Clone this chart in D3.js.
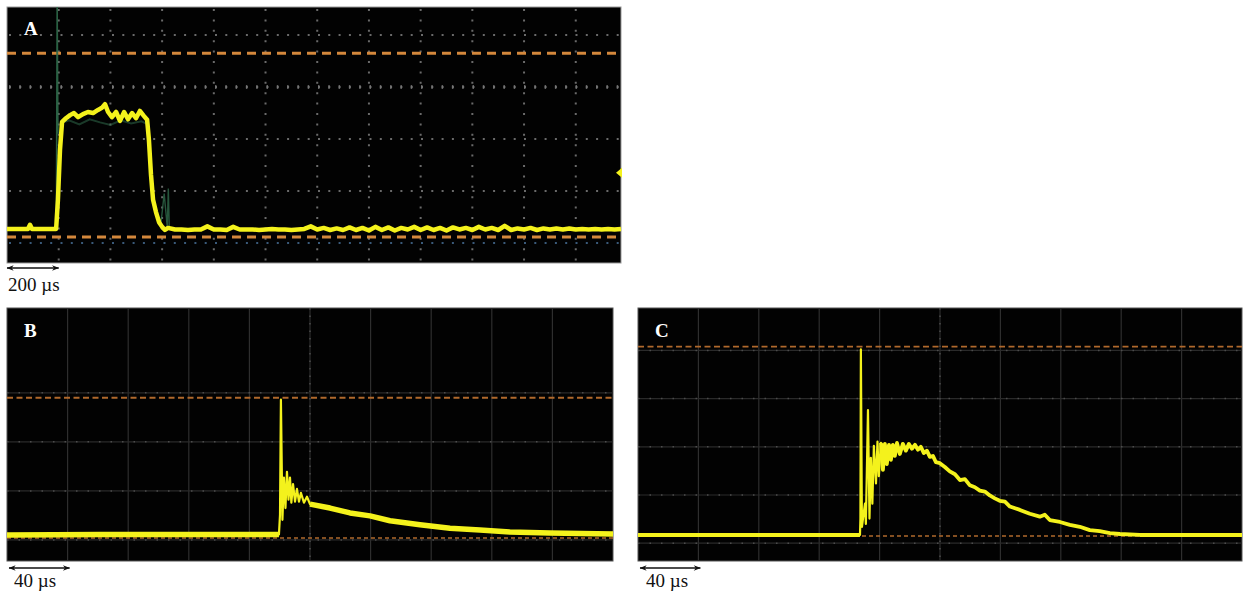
<!DOCTYPE html>
<html><head><meta charset="utf-8">
<script src="https://cdn.jsdelivr.net/npm/d3@7"></script>
<style>body{margin:0;background:#fff}svg{display:block}</style>
</head><body><svg id="c" width="1245" height="595"></svg>
<script>
// ---------------- DATA ----------------
// Panel A: time (µs), voltage (divisions)
const aTime = [0,81,89,97,190,197,205,213,228,244,259,275,294,313,333,352,367,379,391,406,422,437,453,468,484,499,514,530,542,549,557,565,576,588,600,611,623,
 650,675,700,725,750,775,800,825,850,875,900,925,950,975,1000,1025,1050,1075,1100,1125,1150,1175,1200,1225,1250,1275,1300,1325,1350,1375,1400,1425,1450,1475,1500,1525,1550,1575,1600,1625,1650,1675,1700,1725,1750,1775,1800,1825,1850,1875,1900,1925,1950,1975,2000,2025,2050,2075,2100,2125,2150,2175,2200,2225,2250,2275,2300,2325,2350,2375];
const aVolt = [0.27,0.27,0.35,0.27,0.27,0.83,1.79,2.33,2.40,2.46,2.50,2.42,2.48,2.52,2.50,2.56,2.60,2.67,2.52,2.42,2.52,2.35,2.52,2.38,2.50,2.40,2.54,2.44,2.37,1.98,1.31,0.83,0.60,0.40,0.31,0.25,0.29,
 0.26,0.26,0.25,0.26,0.26,0.32,0.26,0.26,0.25,0.31,0.26,0.26,0.26,0.25,0.26,0.27,0.26,0.26,0.25,0.26,0.27,0.32,0.26,0.29,0.25,0.28,0.25,0.30,0.25,0.29,0.24,0.31,0.25,0.30,0.24,0.29,0.26,0.31,0.25,0.30,0.25,0.29,0.24,0.30,0.26,0.29,0.25,0.31,0.26,0.29,0.25,0.33,0.25,0.28,0.26,0.29,0.25,0.28,0.26,0.28,0.26,0.28,0.26,0.27,0.26,0.27,0.26,0.27,0.26,0.27];
// faint green persistence traces in A
const aGreen1Time = [191,194,197];
const aGreen1Volt = [0.27,4.54,2.10];
const aGreen2Time = [205,240,280,320,360,400,440,480,520,545];
const aGreen2Volt = [2.30,2.36,2.28,2.38,2.32,2.27,2.36,2.30,2.34,2.28];
const aGreen3Time = [545,552,560,570,582,596,608,620,624,628];
const aGreen3Volt = [2.30,1.60,1.20,0.80,0.55,0.40,0.95,0.30,1.05,0.25];
const aMarkerVolt = 1.35;
const aRefHigh = 3.65, aRefLow = 0.115;

// Panel B
const bTime = [0,61.4,127,179.5,180.2,180.8,181.8,182.8,183.8,184.8,185.8,186.8,187.7,188.8,190.1,191.4,192.7,194.0,196.0,198.0,200.0,213.2,226.4,239.6,252.8,272.6,292.4,312.2,332,358.4,400];
const bVolt = [0.10,0.11,0.11,0.11,0.51,2.86,0.41,1.27,0.65,1.39,0.82,1.27,0.76,1.14,0.78,1.04,0.78,0.96,0.76,0.88,0.73,0.65,0.55,0.49,0.39,0.31,0.24,0.20,0.16,0.14,0.12];
const bRefHigh = 2.90, bRefLow = 0.04;

// Panel C
const cTime = [0,147,147.3,147.6,148.3,150.3,150.9,152.3,153.3,154.2,155.2,156.2,157.6,158.6,159.5,160.9,162.2,163.5,164.8,166.2,167.5,168.8,170.1,171.5,173.4,175.4,177.4,179.4,181.4,183.4,185.4,187.3,189.3,191.3,193.3,195.3,197.3,199.9,203.2,206.5,209.9,213.2,216.5,219.8,223.1,226.4,229.7,233.0,236.3,239.6,243,246.3,252.9,259.5,266.1,269.4,272.7,279.4,286,292.6,299.2,305.8,312.5,319.1,332.3,400];
const cVolt = [0.17,0.17,0.51,4.02,0.34,0.82,0.40,2.76,0.51,1.77,0.82,2.02,1.24,2.11,1.39,2.08,1.52,2.06,1.64,2.04,1.73,2.04,1.81,2.08,1.85,2.06,1.92,2.06,1.96,2.04,1.94,2.00,1.87,1.92,1.79,1.81,1.68,1.66,1.58,1.49,1.43,1.31,1.33,1.20,1.16,1.09,1.07,0.99,0.93,0.88,0.86,0.76,0.69,0.61,0.55,0.59,0.48,0.44,0.38,0.34,0.27,0.25,0.21,0.19,0.17,0.17];
const cRefHigh = 4.08, cRefLow = 0.15;

const timeTicksA = [200,400,600,800,1000,1200,1400,1600,1800,2000,2200];
const timeTicksBC = [40,80,120,160,200,240,280,320,360];
const voltTicksA = [0,1,2,3,4];
const voltTicksB = [0,1,2,3];
const voltTicksC = [0,1,2,3,4];
const labels = ["A","B","C"];
const scaleLabels = ["200 µs","40 µs","40 µs"];

// ---------------- DRAW ----------------
const svg = d3.select("#c");
const YEL = "#f4f21c";
const SERIF = "'Liberation Serif', 'DejaVu Serif', serif";

function zip(t, v){ return t.map((d,i)=>({t:d, v:v[i]})); }

function panel(cfg){
  const g = svg.append("g");
  const x = d3.scaleLinear().domain(cfg.xd).range([cfg.x0, cfg.x1]);
  const y = d3.scaleLinear().domain(cfg.yd).range([cfg.y1, cfg.y0]);
  g.append("rect").attr("x",cfg.x0).attr("y",cfg.y0).attr("width",cfg.x1-cfg.x0).attr("height",cfg.y1-cfg.y0)
    .attr("fill","#020202").attr("stroke", cfg.border).attr("stroke-width",1);
  return {g,x,y};
}

// ---- Panel A ----
(function(){
  const {g,x,y} = panel({x0:7,x1:621,y0:7,y1:263,xd:[0,2375],yd:[-0.385,4.54],border:"#999"});
  g.selectAll(".gv").data(timeTicksA).join("line")
    .attr("x1",d=>x(d)).attr("x2",d=>x(d)).attr("y1",9).attr("y2",261)
    .attr("stroke","#6a6a6a").attr("stroke-width",2).attr("stroke-dasharray","2,8.4");
  g.selectAll(".gh").data(voltTicksA).join("line")
    .attr("x1",9).attr("x2",619).attr("y1",d=>y(d)).attr("y2",d=>y(d))
    .attr("stroke",d=>d===0?"#3a5a7a":"#6a6a6a").attr("stroke-width",2).attr("stroke-dasharray","2,8.3");
  g.append("line").attr("x1",9).attr("x2",619).attr("y1",y(3)).attr("y2",y(3))
    .attr("stroke","#7a7a7a").attr("stroke-width",4).attr("stroke-dasharray","1.5,8.8").attr("opacity",0.8);
  [aRefHigh,aRefLow].forEach(v=>{
    g.append("line").attr("x1",7).attr("x2",621).attr("y1",y(v)).attr("y2",y(v))
      .attr("stroke","#d4883c").attr("stroke-width",3).attr("stroke-dasharray","9,6");
  });
  const line = d3.line().x(d=>x(d.t)).y(d=>y(d.v));
  [[aGreen1Time,aGreen1Volt,1.6,0.9],[aGreen2Time,aGreen2Volt,2,0.55],[aGreen3Time,aGreen3Volt,1.4,0.8]].forEach(([t,v,w,o])=>{
    g.append("path").attr("d",line(zip(t,v))).attr("fill","none").attr("stroke","#2f6a4a").attr("stroke-width",w).attr("opacity",o);
  });
  g.append("path").attr("d",line(zip(aTime,aVolt))).attr("fill","none").attr("stroke",YEL)
    .attr("stroke-width",4.5).attr("stroke-linejoin","round");
  const my = y(aMarkerVolt), mx = x(2375);
  g.append("path").attr("d",`M${mx-5},${my}L${mx+1},${my-5}L${mx+1},${my+5}Z`).attr("fill",YEL);
})();

// ---- Panels B & C ----
function scopePanel(cfg, tArr, vArr, vTicks, refH, refL, bandCut){
  const {g,x,y} = panel(cfg);
  g.selectAll(".gv").data(timeTicksBC).join("line")
    .attr("x1",d=>x(d)).attr("x2",d=>x(d)).attr("y1",cfg.y0).attr("y2",cfg.y1)
    .attr("stroke","#2e2e2e").attr("stroke-width",1.2);
  g.selectAll(".gh").data(vTicks).join("line")
    .attr("x1",cfg.x0).attr("x2",cfg.x1).attr("y1",d=>y(d)).attr("y2",d=>y(d))
    .attr("stroke","#2a2a2a").attr("stroke-width",1.2);
  g.selectAll(".ghd").data(vTicks).join("line")
    .attr("x1",cfg.x0).attr("x2",cfg.x1).attr("y1",d=>y(d)).attr("y2",d=>y(d))
    .attr("stroke","#4c4c4c").attr("stroke-width",1.5).attr("stroke-dasharray","1.5,10");
  g.append("line").attr("x1",x(200)).attr("x2",x(200)).attr("y1",cfg.y0).attr("y2",cfg.y1)
    .attr("stroke","#4c4c4c").attr("stroke-width",1.5).attr("stroke-dasharray","1.5,6");
  [refH,refL].forEach((v,i)=>{
    g.append("line").attr("x1",cfg.x0).attr("x2",cfg.x1).attr("y1",y(v)).attr("y2",y(v))
      .attr("stroke","#b0692c").attr("stroke-width",i===0?1.8:1.6).attr("stroke-dasharray",i===0?"6,3.5":"4,3");
  });
  const data = zip(tArr,vArr);
  const line = d3.line().x(d=>x(d.t)).y(d=>y(d.v));
  g.append("path").attr("d",line(data)).attr("fill","none").attr("stroke",YEL)
    .attr("stroke-width",2.2).attr("stroke-linejoin","round");
  const band = d3.line().defined(d=>d.t<=bandCut[0]||d.t>=bandCut[1]).x(d=>x(d.t)).y(d=>y(d.v));
  g.append("path").attr("d",band(data)).attr("fill","none").attr("stroke",YEL)
    .attr("stroke-width",cfg.bandW).attr("stroke-linejoin","round");
  return {g,x,y};
}
const B = scopePanel({x0:7,x1:613,y0:308,y1:561,xd:[0,400],yd:[-0.43,4.73],border:"#555",bandW:5.5},
  bTime,bVolt,voltTicksB,bRefHigh,bRefLow,[179.5,200]);
const C = scopePanel({x0:638,x1:1242,y0:308,y1:561,xd:[0,400],yd:[-0.37,4.88],border:"#555",bandW:3.8},
  cTime,cVolt,voltTicksC,cRefHigh,cRefLow,[147,160]);

// ---- letters ----
const letterPos = [[24,35],[24,337],[655,337]];
svg.selectAll(".lab").data(labels).join("text")
  .attr("x",(d,i)=>letterPos[i][0]).attr("y",(d,i)=>letterPos[i][1])
  .attr("fill","#fff").style("font-family",SERIF).attr("font-weight","bold").attr("font-size",19)
  .text(d=>d);

// ---- time-scale arrows ----
const defs = svg.append("defs");
defs.append("marker").attr("id","ah").attr("viewBox","0 0 10 10").attr("refX",9.5).attr("refY",5)
  .attr("markerWidth",11).attr("markerHeight",7).attr("orient","auto-start-reverse").attr("markerUnits","userSpaceOnUse")
  .append("path").attr("d","M0,1L10,5L0,9L3,5Z").attr("fill","#111");
const arrows = [
  {x1:7, x2:7+(621-7)*200/2375, y:268, tx:8, ty:291},
  {x1:B.x(0)+2, x2:B.x(40)+2, y:568, tx:14, ty:587},
  {x1:C.x(0)+2, x2:C.x(40)+2, y:568, tx:646, ty:587}
];
arrows.forEach((a,i)=>{
  svg.append("line").attr("x1",a.x1).attr("x2",a.x2).attr("y1",a.y).attr("y2",a.y)
    .attr("stroke","#111").attr("stroke-width",1.6)
    .attr("marker-start","url(#ah)").attr("marker-end","url(#ah)");
  svg.append("text").attr("x",a.tx).attr("y",a.ty).attr("fill","#111")
    .style("font-family",SERIF).attr("font-size",19).text(scaleLabels[i]);
});
</script></body></html>
